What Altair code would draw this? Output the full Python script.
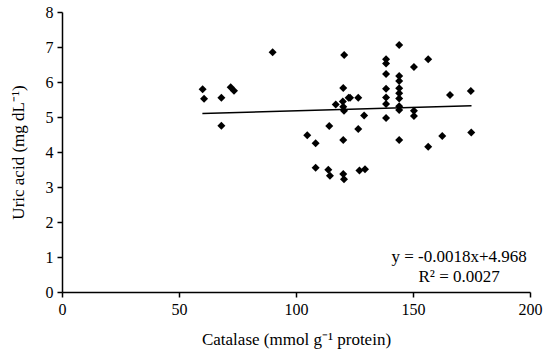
import altair as alt
import pandas as pd

catalase = [60.1, 60.7, 68.1, 68.1, 72.1, 73.5, 90.0,
            120.6, 120.2, 122.5, 117.0, 120.0, 120.2, 120.5, 114.2, 104.8, 108.4, 120.2,
            108.4, 113.8, 114.5, 120.2, 120.5,
            123.1, 126.6, 129.1, 126.6, 127.1, 129.5,
            138.5, 138.5, 138.5, 138.5, 138.5, 138.5, 138.5,
            144.1, 144.1, 144.1, 144.1, 144.1, 144.1, 144.1, 144.1, 144.1,
            150.4, 150.4, 150.4, 156.5, 156.5, 162.5, 165.8, 174.7, 174.9]
uric = [5.79, 5.52, 5.55, 4.75, 5.85, 5.75, 6.85,
        6.77, 5.83, 5.55, 5.36, 5.44, 5.29, 5.18, 4.74, 4.48, 4.25, 4.34,
        3.55, 3.49, 3.32, 3.37, 3.22,
        5.55, 5.55, 5.04, 4.66, 3.47, 3.51,
        6.65, 6.53, 6.23, 5.81, 5.56, 5.37, 4.97,
        7.06, 6.17, 6.03, 5.82, 5.68, 5.53, 5.31, 5.20, 4.34,
        6.43, 5.18, 5.03, 6.65, 4.15, 4.46, 5.63, 5.74, 4.56]

trend_x = [60, 175]
trend_y = [5.10, 5.32]

ann_x = [169.7, 169.7]
ann_y = [1.0, 0.43]
ann_text = ["y = -0.0018x+4.968", "R\u00b2 = 0.0027"]

x_ticks = [0, 50, 100, 150, 200]
y_ticks = [0, 1, 2, 3, 4, 5, 6, 7, 8]

pts = pd.DataFrame({"x": catalase, "y": uric})
trend = pd.DataFrame({"x": trend_x, "y": trend_y})
ann = pd.DataFrame({"x": ann_x, "y": ann_y, "t": ann_text})

FONT = "Liberation Serif"

xscale = alt.Scale(domain=[0, 200], nice=False, zero=False)
yscale = alt.Scale(domain=[0, 8], nice=False, zero=False)

xaxis = alt.Axis(values=x_ticks, title="Catalase (mmol g\u207b\u00b9 protein)",
                 grid=False, domainColor="black", domainWidth=1.5, tickColor="black",
                 tickWidth=1.5, tickSize=5, labelFont=FONT, labelFontSize=16,
                 labelColor="black", titleFont=FONT, titleFontSize=17,
                 titleFontWeight="normal", titleColor="black", labelPadding=4,
                 titlePadding=14, labelOverlap=False, labelFlush=False)
yaxis = alt.Axis(values=y_ticks, title="Uric acid (mg dL\u207b\u00b9)",
                 grid=False, domainColor="black", domainWidth=1.5, tickColor="black",
                 tickWidth=1.5, tickSize=5, labelFont=FONT, labelFontSize=16,
                 labelColor="black", titleFont=FONT, titleFontSize=17,
                 titleFontWeight="normal", titleColor="black", labelPadding=4,
                 titlePadding=18, labelOverlap=False, labelFlush=False)

X = alt.X("x:Q", scale=xscale, axis=xaxis)
Y = alt.Y("y:Q", scale=yscale, axis=yaxis)

points = alt.Chart(pts).mark_point(shape="diamond", filled=True, color="black",
                                   size=64, opacity=1).encode(x=X, y=Y)

line = alt.Chart(trend).mark_line(color="black", strokeWidth=1.5).encode(x=X, y=Y)

text = alt.Chart(ann).mark_text(font=FONT, fontSize=17, color="black",
                                align="center", baseline="middle").encode(
    x=X, y=Y, text="t:N")

chart = alt.layer(points, line, text).properties(
    width=468, height=280,
    autosize=alt.AutoSizeParams(type="none"),
    padding={"left": 62, "top": 12, "right": 17, "bottom": 62},
    background="white",
).configure_view(stroke=None)

chart.save("out.html", embed_options={"renderer": "svg", "actions": False})
